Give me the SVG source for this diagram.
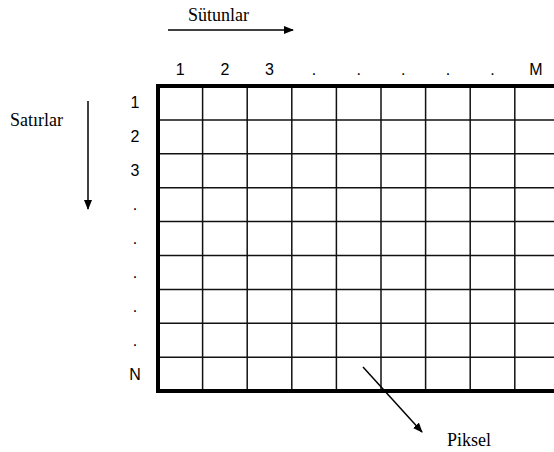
<svg xmlns="http://www.w3.org/2000/svg" width="554" height="452" viewBox="0 0 554 452">
<defs>
<marker id="ah" markerWidth="10" markerHeight="8" refX="9" refY="4" orient="auto" markerUnits="userSpaceOnUse">
<path d="M0,0 L10,4 L0,8 Z" fill="#000"/>
</marker>
<style>
.lbl{font-family:"Liberation Sans",Arial,sans-serif;font-size:16px;fill:#000;text-anchor:middle}
.ser{font-family:"Liberation Serif","Times New Roman",serif;font-size:18px;fill:#000}
.thin{stroke:#111;stroke-width:1.5;fill:none}
.thick{stroke:#000;stroke-width:4;fill:none}
.arr{stroke:#000;stroke-width:1.5;fill:none;marker-end:url(#ah)}
</style>
</defs>
<rect width="554" height="452" fill="#fff"/>
<g id="grid">
<g class="thin">
<line x1="202.6" y1="86" x2="202.6" y2="391"/>
<line x1="247.2" y1="86" x2="247.2" y2="391"/>
<line x1="291.8" y1="86" x2="291.8" y2="391"/>
<line x1="336.4" y1="86" x2="336.4" y2="391"/>
<line x1="381" y1="86" x2="381" y2="391"/>
<line x1="425.6" y1="86" x2="425.6" y2="391"/>
<line x1="470.2" y1="86" x2="470.2" y2="391"/>
<line x1="514.8" y1="86" x2="514.8" y2="391"/>
<line x1="158" y1="119.9" x2="560" y2="119.9"/>
<line x1="158" y1="153.8" x2="560" y2="153.8"/>
<line x1="158" y1="187.7" x2="560" y2="187.7"/>
<line x1="158" y1="221.6" x2="560" y2="221.6"/>
<line x1="158" y1="255.5" x2="560" y2="255.5"/>
<line x1="158" y1="289.4" x2="560" y2="289.4"/>
<line x1="158" y1="323.3" x2="560" y2="323.3"/>
<line x1="158" y1="357.2" x2="560" y2="357.2"/>
</g>
<path class="thick" d="M560,86 H158 V391 H560"/>
</g>
<g id="col-labels">
<text class="lbl" x="180.3" y="75">1</text>
<text class="lbl" x="224.9" y="75">2</text>
<text class="lbl" x="269.5" y="75">3</text>
<text class="lbl" x="314.1" y="75">.</text>
<text class="lbl" x="358.7" y="75">.</text>
<text class="lbl" x="403.3" y="75">.</text>
<text class="lbl" x="447.9" y="75">.</text>
<text class="lbl" x="492.5" y="75">.</text>
<text class="lbl" x="536" y="75">M</text>
</g>
<g id="row-labels">
<text class="lbl" x="135" y="108">1</text>
<text class="lbl" x="135" y="142">2</text>
<text class="lbl" x="135" y="176">3</text>
<text class="lbl" x="135" y="210">.</text>
<text class="lbl" x="135" y="244">.</text>
<text class="lbl" x="135" y="278">.</text>
<text class="lbl" x="135" y="312">.</text>
<text class="lbl" x="135" y="346">.</text>
<text class="lbl" x="135" y="380">N</text>
</g>
<g id="sutunlar"><text class="ser" x="188" y="21">Sütunlar</text></g>
<g id="satirlar"><text class="ser" x="10" y="126">Satırlar</text></g>
<g id="piksel"><text class="ser" x="447" y="446">Piksel</text></g>
<g id="connectors">
<line class="arr" x1="168" y1="30" x2="293" y2="30"/>
<line class="arr" x1="88" y1="101" x2="88" y2="209"/>
<line class="arr" x1="363" y1="367" x2="422" y2="432"/>
</g>
</svg>
